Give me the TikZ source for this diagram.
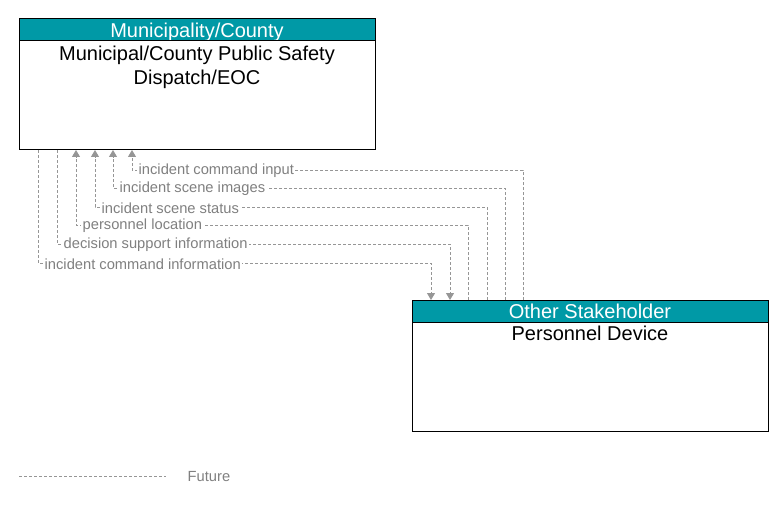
\documentclass[tikz,border=0pt]{standalone}
\usepackage{fontspec}
\setmainfont{Liberation Sans}
\usetikzlibrary{arrows.meta}
\definecolor{hdrteal}{RGB}{0,153,166}
\definecolor{flowgray}{RGB}{150,150,150}
\definecolor{lblgray}{RGB}{128,128,128}
\begin{document}
\begin{tikzpicture}[x=1pt, y=-1pt]
	    \tikzset{>={Triangle[length=7pt,width=8pt]}}
	    \tikzset{hdr/.style={draw=black, line width=1pt, fill=hdrteal, text=white, inner sep=0pt, outer sep=0pt,
	        minimum width=356pt, minimum height=22pt, text height=15pt, text depth=0pt,
	        font=\fontsize{20}{24}\selectfont, anchor=north west}}
	    \tikzset{body/.style={draw=black, line width=1pt, minimum width=356pt, inner sep=0pt, outer sep=0pt, anchor=north}}
	    \tikzset{elemname/.style={inner sep=0pt, anchor=north, align=center, font=\fontsize{20}{23.5}\selectfont}}
	    \tikzset{flow/.style={draw=flowgray, line width=1pt, dash pattern=on 3pt off 2pt}}
	    \tikzset{flowlbl/.style={fill=white, text=lblgray, inner xsep=1.5pt, inner ysep=0.5pt, yshift=-1pt, font=\fontsize{14.7}{17}\selectfont}}
	    \useasboundingbox (0,0) rectangle (783,505);
	    % top box
	    \node[hdr] (mcHead) at (19,19) {Municipality/County};
	    \node[body, minimum height=109pt] (mcBody) at (mcHead.south) {};
	    \node[elemname] (mcName) at (197,46) {Municipal/County Public Safety\\Dispatch/EOC};
	    % bottom box
	    \node[hdr] (devHead) at (412,300) {Other Stakeholder};
	    \node[body, minimum height=109pt] (devBody) at (devHead.south) {};
	    \node[elemname] (devName) at (590,326) {Personnel Device};
	    % flows into the dispatch box
	    \foreach \xa/\yy/\xb/\txt [count=\i] in {523/170/132/incident command input,
	        505/188/113/incident scene images, 487/207/95/incident scene status,
	        468/225/76/personnel location} {
	        \draw[flow,->] (devHead.north -| \xa,0) |- (\xb,\yy) -- (mcBody.south -| \xb,0);
	        \node[flowlbl, anchor=west] (in\i) at (\xb+5,\yy) {\txt};
	    }
	    % flows into the device
	    \foreach \xa/\yy/\xb/\txt [count=\i] in {57/244/450/decision support information,
	        38/263/431/incident command information} {
	        \draw[flow,->] (mcBody.south -| \xa,0) |- (\xb,\yy) -- (devHead.north -| \xb,0);
	        \node[flowlbl, anchor=west] (out\i) at (\xa+5,\yy) {\txt};
	    }
	    % legend
	    \coordinate (lgA) at (19,476);
	    \coordinate (lgB) at (166,476);
	    \draw[flow] (lgA) -- (lgB);
	    \node[flowlbl, anchor=west] (lgTxt) at (186,476) {Future};
\end{tikzpicture}
\end{document}
